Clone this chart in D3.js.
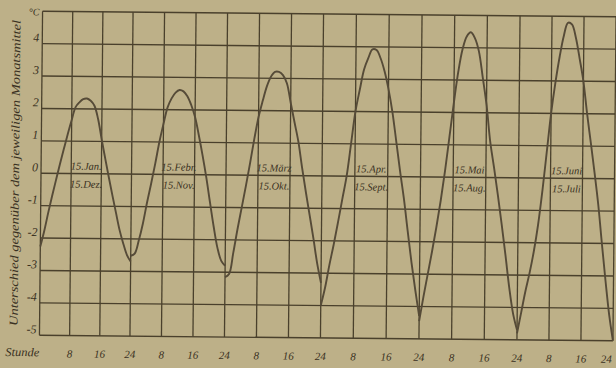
<!DOCTYPE html>
<html>
<head>
<meta charset="utf-8">
<script src="https://cdn.jsdelivr.net/npm/d3@7"></script>
<style>
  body { margin: 0; background: #bdb088; }
  svg { display: block; }
</style>
</head>
<body>
<svg id="chart" width="616" height="368"></svg>
<script>
// Daily course of temperature, departure from the monthly mean (°C), one day per panel
const periodLabels = [
  ["15.Jan.", "15.Dez."],
  ["15.Febr.", "15.Nov."],
  ["15.März", "15.Okt."],
  ["15.Apr.", "15.Sept."],
  ["15.Mai", "15.Aug."],
  ["15.Juni", "15.Juli"]
];
const hours = [0,1,2,3,4,5,6,7,8,9,10,11,12,13,14,15,16,17,18,19,20,21,22,23,24];

const janDec = [-2.26,-1.78,-1.22,-0.70,-0.20,0.29,0.76,1.22,1.65,2.05,2.20,2.30,2.32,2.25,2.10,1.69,1.06,0.47,-0.11,-0.67,-1.21,-1.74,-2.15,-2.50,-2.70];
const febNov = [-2.52,-2.45,-2.05,-1.53,-0.88,-0.29,0.33,1.00,1.56,2.07,2.35,2.53,2.61,2.57,2.42,2.15,1.78,1.22,0.60,-0.08,-0.85,-1.60,-2.25,-2.65,-2.80];
const marOct = [-3.15,-3.05,-2.40,-1.67,-1.00,-0.33,0.38,1.13,1.80,2.30,2.75,3.05,3.20,3.20,3.10,2.85,2.25,1.65,1.06,0.25,-0.50,-1.21,-1.93,-2.70,-3.30];
const aprSep = [-4.00,-3.45,-2.75,-2.12,-1.43,-0.71,0.00,1.00,2.00,2.67,3.30,3.65,3.92,3.90,3.65,3.25,2.70,2.00,1.10,0.18,-0.67,-1.67,-2.64,-3.50,-4.30];
const mayAug = [-4.45,-3.70,-3.00,-2.30,-1.55,-0.73,0.20,1.25,2.30,3.25,3.95,4.35,4.48,4.30,3.90,3.10,2.25,1.10,0.30,-0.55,-1.45,-2.40,-3.40,-4.20,-4.70];
const junJul = [-4.80,-4.15,-3.50,-2.93,-2.27,-1.45,-0.40,0.80,2.00,2.95,3.75,4.40,4.80,4.75,4.35,3.70,3.00,2.00,1.10,0.18,-0.80,-2.00,-3.15,-4.20,-5.00];
const series = [janDec, febNov, marOct, aprSep, mayAug, junJul];

const tempTicks = [5,4,3,2,1,0,-1,-2,-3,-4,-5];
const hourTicks = [8,16,24];

const ink = "#4a402c";
const curveInk = "#564b38";
const textInk = "#3a3122";

const svg = d3.select("#chart");
const g = svg.append("g").attr("transform", "rotate(0.55, 327, 176)");

// one day = 24 h; panel boundaries on the sheet
const dayStarts = [0,24,48,72,96,120,144];
const x = d3.scaleLinear().domain(dayStarts).range([41,131.5,226,322,420.5,518.5,614.5]);
const y = d3.scaleLinear().domain([-5,5]).range([338,14]);

// horizontal rulings
g.append("g").selectAll("line").data(tempTicks).join("line")
  .attr("x1", x(0)).attr("x2", x(144))
  .attr("y1", d => y(d)).attr("y2", d => y(d))
  .attr("stroke", ink).attr("stroke-width", 1.4);

// vertical rulings every 8 hours
const vLines = d3.range(0, 145, 8);
g.append("g").selectAll("line").data(vLines).join("line")
  .attr("x1", d => x(d)).attr("x2", d => x(d))
  .attr("y1", y(5)).attr("y2", y(-5))
  .attr("stroke", ink).attr("stroke-width", 1.3);

// temperature scale
g.append("g").selectAll("text").data(tempTicks).join("text")
  .attr("x", 38).attr("y", d => d === 5 ? y(d) + 4 : y(d) - 2)
  .attr("text-anchor", "end")
  .attr("font-family", "Liberation Serif, serif").attr("font-style", "italic")
  .attr("font-size", d => d === 5 ? 10 : 12).attr("fill", textInk)
  .text(d => d === 5 ? "°C" : d);

// axis title
g.append("text")
  .attr("transform", `translate(19,${(y(5)+y(-5))/2}) rotate(-90)`)
  .attr("text-anchor", "middle")
  .attr("font-family", "Liberation Serif, serif").attr("font-style", "italic")
  .attr("font-size", 12).attr("fill", textInk)
  .attr("textLength", 306).attr("lengthAdjust", "spacingAndGlyphs")
  .text("Unterschied gegenüber dem jeweiligen Monatsmittel");

// hour scale
const hourLabelData = [];
for (let p = 0; p < 6; p++) hourTicks.forEach(h => hourLabelData.push({pos: p*24 + h, label: h}));
g.append("g").selectAll("text").data(hourLabelData).join("text")
  .attr("x", d => d.pos === 144 ? x(d.pos) - 1 : x(d.pos)).attr("y", 360)
  .attr("text-anchor", d => d.pos === 144 ? "end" : "middle")
  .attr("font-family", "Liberation Serif, serif").attr("font-style", "italic")
  .attr("font-size", 11).attr("fill", textInk)
  .text(d => d.label);
g.append("text")
  .attr("x", 7).attr("y", 359)
  .attr("font-family", "Liberation Serif, serif").attr("font-style", "italic")
  .attr("font-size", 12).attr("fill", textInk)
  .attr("textLength", 34).attr("lengthAdjust", "spacingAndGlyphs")
  .text("Stunde");

// daily curves
series.forEach((vals, p) => {
  const line = d3.line()
    .x((v, i) => x(p*24 + hours[i]))
    .y(v => y(v))
    .curve(d3.curveCatmullRom.alpha(0.5));
  g.append("path").datum(vals)
    .attr("d", line)
    .attr("fill", "none")
    .attr("stroke", curveInk).attr("stroke-width", 1.9);

  const lab = g.append("text")
    .attr("font-family", "Liberation Serif, serif").attr("font-style", "italic")
    .attr("font-size", 10.5).attr("fill", textInk)
    .attr("text-anchor", "middle");
  lab.append("tspan").attr("x", x(p*24 + 12)).attr("y", y(0) - 4).text(periodLabels[p][0]);
  lab.append("tspan").attr("x", x(p*24 + 12)).attr("y", y(0) + 14).text(periodLabels[p][1]);
});
</script>
</body>
</html>
